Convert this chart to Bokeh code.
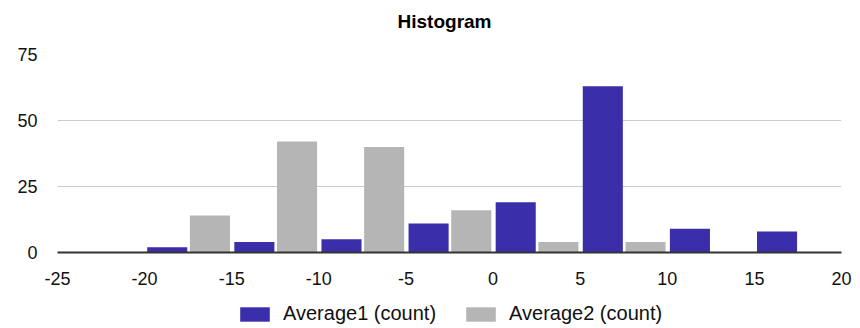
from bokeh.plotting import figure
from bokeh.layouts import column
from bokeh.models import FixedTicker, Legend, LegendItem, ColumnDataSource, Range1d
from bokeh.core.properties import value
from bokeh.embed import file_html
from bokeh.resources import INLINE

# Data
title_text = "Histogram"
bin_edges = [-20, -15, -10, -5, 0, 5, 10, 15]
bin_width = 5
average1 = [2, 4, 5, 11, 19, 63, 9, 8]
average2 = [14, 42, 40, 16, 4, 4, 0, 0]
x_ticks = [-25, -20, -15, -10, -5, 0, 5, 10, 15, 20]
y_ticks = [0, 25, 50, 75]
series_names = ["Average1 (count)", "Average2 (count)"]
colors = ["#3a2eaa", "#b5b5b5"]

FONT = "Liberation Sans"
W = 860
FL, FR = 57, 19  # frame borders (shared by all strips in the column)


def strip(height):
    f = figure(width=W, height=height, output_backend="svg", toolbar_location=None,
               x_range=Range1d(FL, W - FR), y_range=Range1d(0, height),
               min_border_left=FL, min_border_right=FR, min_border_top=0,
               min_border_bottom=0, x_axis_location=None, y_axis_location=None)
    f.outline_line_color = None
    f.grid.visible = False
    return f


# ---- title strip ----
pt = strip(40)
pt.text(x=[444], y=[19], text=[title_text], text_align="center",
        text_baseline="alphabetic", text_font=value(FONT),
        text_font_size="19px", text_font_style="bold", text_color="#000000")

# ---- main chart ----
p = figure(width=W, height=250, output_backend="svg", toolbar_location=None,
           x_range=Range1d(-25, 20), y_range=Range1d(0, 75),
           min_border_left=FL, min_border_right=FR, min_border_top=14,
           min_border_bottom=38)
p.outline_line_color = None
p.background_fill_color = "white"
p.border_fill_color = "white"

half = bin_width / 2.0
b1_left = [e + 0.15 for e in bin_edges]
b1_right = [e + half - 0.05 for e in bin_edges]
b2_left = [e + half + 0.1 for e in bin_edges]
b2_right = [e + bin_width - 0.1 for e in bin_edges]

s1 = ColumnDataSource(dict(left=b1_left, right=b1_right, top=average1, bottom=[0] * len(average1)))
s2 = ColumnDataSource(dict(left=b2_left, right=b2_right, top=average2, bottom=[0] * len(average2)))

p.quad(left="left", right="right", top="top", bottom="bottom", source=s1,
       fill_color=colors[0], line_color=None)
p.quad(left="left", right="right", top="top", bottom="bottom", source=s2,
       fill_color=colors[1], line_color=None)

p.xaxis.ticker = FixedTicker(ticks=x_ticks)
p.yaxis.ticker = FixedTicker(ticks=y_ticks)
p.xaxis.major_label_overrides = {t: str(t) for t in x_ticks}
p.yaxis.major_label_overrides = {t: str(t) for t in y_ticks}
for ax in (p.xaxis[0], p.yaxis[0]):
    ax.major_tick_out = 0
    ax.major_tick_in = 0
    ax.minor_tick_out = 0
    ax.minor_tick_in = 0
    ax.major_label_text_font = FONT
    ax.major_label_text_font_size = "18px"
    ax.major_label_text_color = "#111111"
p.yaxis.axis_line_color = None
p.yaxis.major_label_standoff = 20
p.xaxis.axis_line_color = "#333333"
p.xaxis.axis_line_width = 2
p.xaxis.major_label_standoff = 19

p.xgrid.grid_line_color = None
p.ygrid.grid_line_color = "#cccccc"
p.ygrid.grid_line_width = 1

# ---- legend strip ----
pl = strip(38)
# legend swatch renderers (data kept outside the visible strip)
lr1 = pl.quad(left=[-100], right=[-90], top=[-100], bottom=[-90],
              fill_color=colors[0], line_color=None)
lr2 = pl.quad(left=[-100], right=[-90], top=[-100], bottom=[-90],
              fill_color=colors[1], line_color=None)
legend = Legend(items=[LegendItem(label=series_names[0], renderers=[lr1]),
                       LegendItem(label=series_names[1], renderers=[lr2])],
                orientation="horizontal", location=(236 - FL, 3),
                label_text_font=FONT, label_text_font_size="20px",
                label_text_color="#111111",
                glyph_width=37, glyph_height=18, label_standoff=10,
                spacing=26, border_line_color=None, background_fill_alpha=0,
                margin=0, padding=0)
pl.add_layout(legend, "center")

layout = column(pt, p, pl, spacing=0)
open("out.html", "w").write(file_html(layout, INLINE))
